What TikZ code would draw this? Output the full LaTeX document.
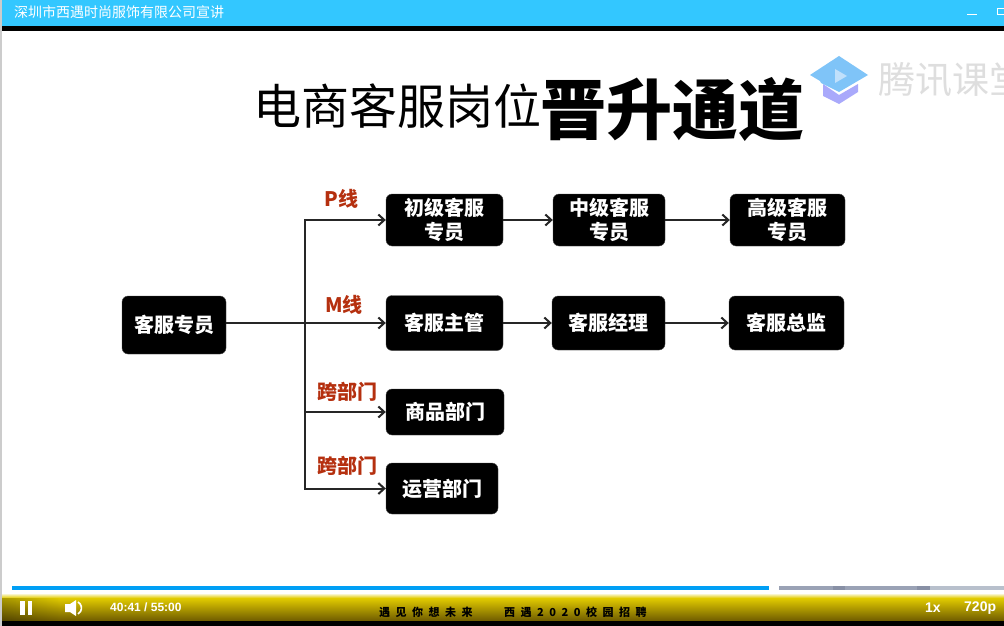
\documentclass[tikz,border=0pt]{standalone}
\usepackage{xcolor}
\usepackage{fontspec}
\usepackage{tikz}
\usetikzlibrary{arrows.meta,fadings}
\setmainfont{Noto Sans CJK SC}
\newfontfamily\spaced[LetterSpace=50]{Noto Sans CJK SC}
\newfontfamily\latin{Liberation Sans}
\definecolor{barblue}{HTML}{33C7FF}
\definecolor{seekblue}{HTML}{009FF5}
\definecolor{linered}{HTML}{B5300F}
\definecolor{capblue}{HTML}{7FC4F8}
\definecolor{caplilac}{HTML}{A9A9FB}
\definecolor{playblue}{HTML}{C0E0FB}
\definecolor{bufgrey}{HTML}{9AA2B5}
\definecolor{bufdark}{HTML}{8890A5}
\definecolor{buflight}{HTML}{B8C0CC}
\definecolor{goldtop}{HTML}{E2CC00}
\definecolor{goldlow}{HTML}{6E5A00}
\begin{document}
\begin{tikzpicture}[x=1pt,y=-1pt]
        \tikzstyle{every node}+=[inner sep=0pt]
        \tikzstyle{post}=[fill=black,draw=black!70,rounded corners=6pt,text=white,align=center,font=\fontsize{20}{24}\selectfont\bfseries]
        \tikzstyle{tag}=[text=linered,font=\fontsize{20}{24}\selectfont\bfseries]
        \tikzstyle{link}=[black!85,line width=2pt,-{Straight Barb[length=6pt,width=11pt]}]
        \tikzstyle{barlabel}=[text=white,font=\fontsize{14}{16}\latin\bfseries]
        \useasboundingbox (0,0) rectangle (1004,626);
        \fill [white] (0,0) rectangle (1004,626);
        \fill [black!20] (0,0) rectangle (2,626);
        \fill [barblue] (2,0) rectangle (1004,26);
        \fill [black] (2,26) rectangle (1004,31);
        \node (course) [anchor=west,text=white,font=\fontsize{14}{16}\selectfont] at (14,12) {深圳市西遇时尚服饰有限公司宣讲};
        \draw [white,line width=1pt] (967,15) -- (977,15);
        \draw [white,line width=1pt] (997,8.5) rectangle (1006,15);
        \node (title) [anchor=west,font=\fontsize{48}{50}\selectfont] at (253,106) {电商客服岗位};
        \node (titlebold) [anchor=west,font=\fontsize{66}{70}\selectfont\bfseries] at (540,109) {晋升通道};
        \fill [caplilac] (823,84) -- (839,95) -- (858,84) -- (858,92) -- (839,104) -- (823,96);
        \fill [capblue] (810,75) -- (839,56) -- (868,75) -- (839,92) -- (821,83) -- (820,81);
        \fill [playblue] (835,69) -- (847,76) -- (835,83);
        \node (school) [anchor=west,text=black!13,font=\fontsize{37}{40}\selectfont] at (878,80) {腾讯课堂};
        \node (clerk) [post,minimum width=104pt,minimum height=58pt] at (174,325) {客服专员};
        \node (junior) [post,minimum width=117pt,minimum height=52pt] at (444.5,220) {初级客服\\专员};
        \node (middle) [post,minimum width=112pt,minimum height=52pt] at (609,220) {中级客服\\专员};
        \node (senior) [post,minimum width=115pt,minimum height=52pt] at (787.5,220) {高级客服\\专员};
        \node (lead) [post,minimum width=117pt,minimum height=55pt] at (444.5,323) {客服主管};
        \node (manager) [post,minimum width=113pt,minimum height=54pt] at (608.5,323) {客服经理};
        \node (chief) [post,minimum width=115pt,minimum height=54pt] at (786.5,323) {客服总监};
        \node (goods) [post,minimum width=118pt,minimum height=46pt] at (445,412) {商品部门};
        \node (ops) [post,minimum width=112pt,minimum height=51pt] at (442,488.5) {运营部门};
        \coordinate (fork) at (305,323);
        \draw [link,-] (clerk.east |- fork) -- (fork);
        \draw [link] (fork) |- (junior);
        \draw [link] (fork) -- (lead);
        \draw [link] (fork) |- (goods);
        \draw [link] (fork) |- (ops);
        \draw [link] (junior) -- (middle);
        \draw [link] (middle) -- (senior);
        \draw [link] (lead) -- (manager);
        \draw [link] (manager) -- (chief);
        \node (pline) [tag] at (341.5,199) {P线};
        \node (mline) [tag] at (344,305) {M线};
        \node (crossa) [tag] at (347,392) {跨部门};
        \node (crossb) [tag] at (347,466) {跨部门};
        \fill [seekblue] (12,586) rectangle (769,590);
        \fill [bufgrey] (779,586) rectangle (1004,590);
        \fill [bufdark] (833,586) rectangle (845,590);
        \fill [bufdark] (917,586) rectangle (930,590);
        \fill [buflight] (930,586) rectangle (1004,590);
        \shade [top color=white,bottom color=goldtop] (2,593) rectangle (1004,598);
        \shade [top color=goldtop,bottom color=goldlow] (2,598) rectangle (1004,621);
        \fill [black,opacity=.25,path fading=east] (2,598) rectangle (60,621);
        \fill [black] (2,621) rectangle (1004,626);
        \fill [white] (20,601) rectangle (25,615);
        \fill [white] (28,601) rectangle (32,615);
        \fill [white] (65,604) -- (70,604) -- (76,600) -- (76,616) -- (70,612) -- (65,612);
        \draw [white,line width=1.6pt] (78,602) arc (-60:60:6.9);
        \node (clock) [barlabel,anchor=west,font=\fontsize{12}{14}\latin\bfseries] at (110,607.5) {40:41 / 55:00};
        \node (slogana) [anchor=west,font=\fontsize{11}{13}\spaced\bfseries] at (379,612) {遇见你想未来};
        \node (sloganb) [anchor=west,font=\fontsize{11}{13}\spaced\bfseries] at (504,612) {西遇2020校园招聘};
        \node (speed) [barlabel,anchor=west] at (925,608) {1x};
        \node (quality) [barlabel,anchor=west] at (964,608) {720p};
    \end{tikzpicture}
\end{document}
